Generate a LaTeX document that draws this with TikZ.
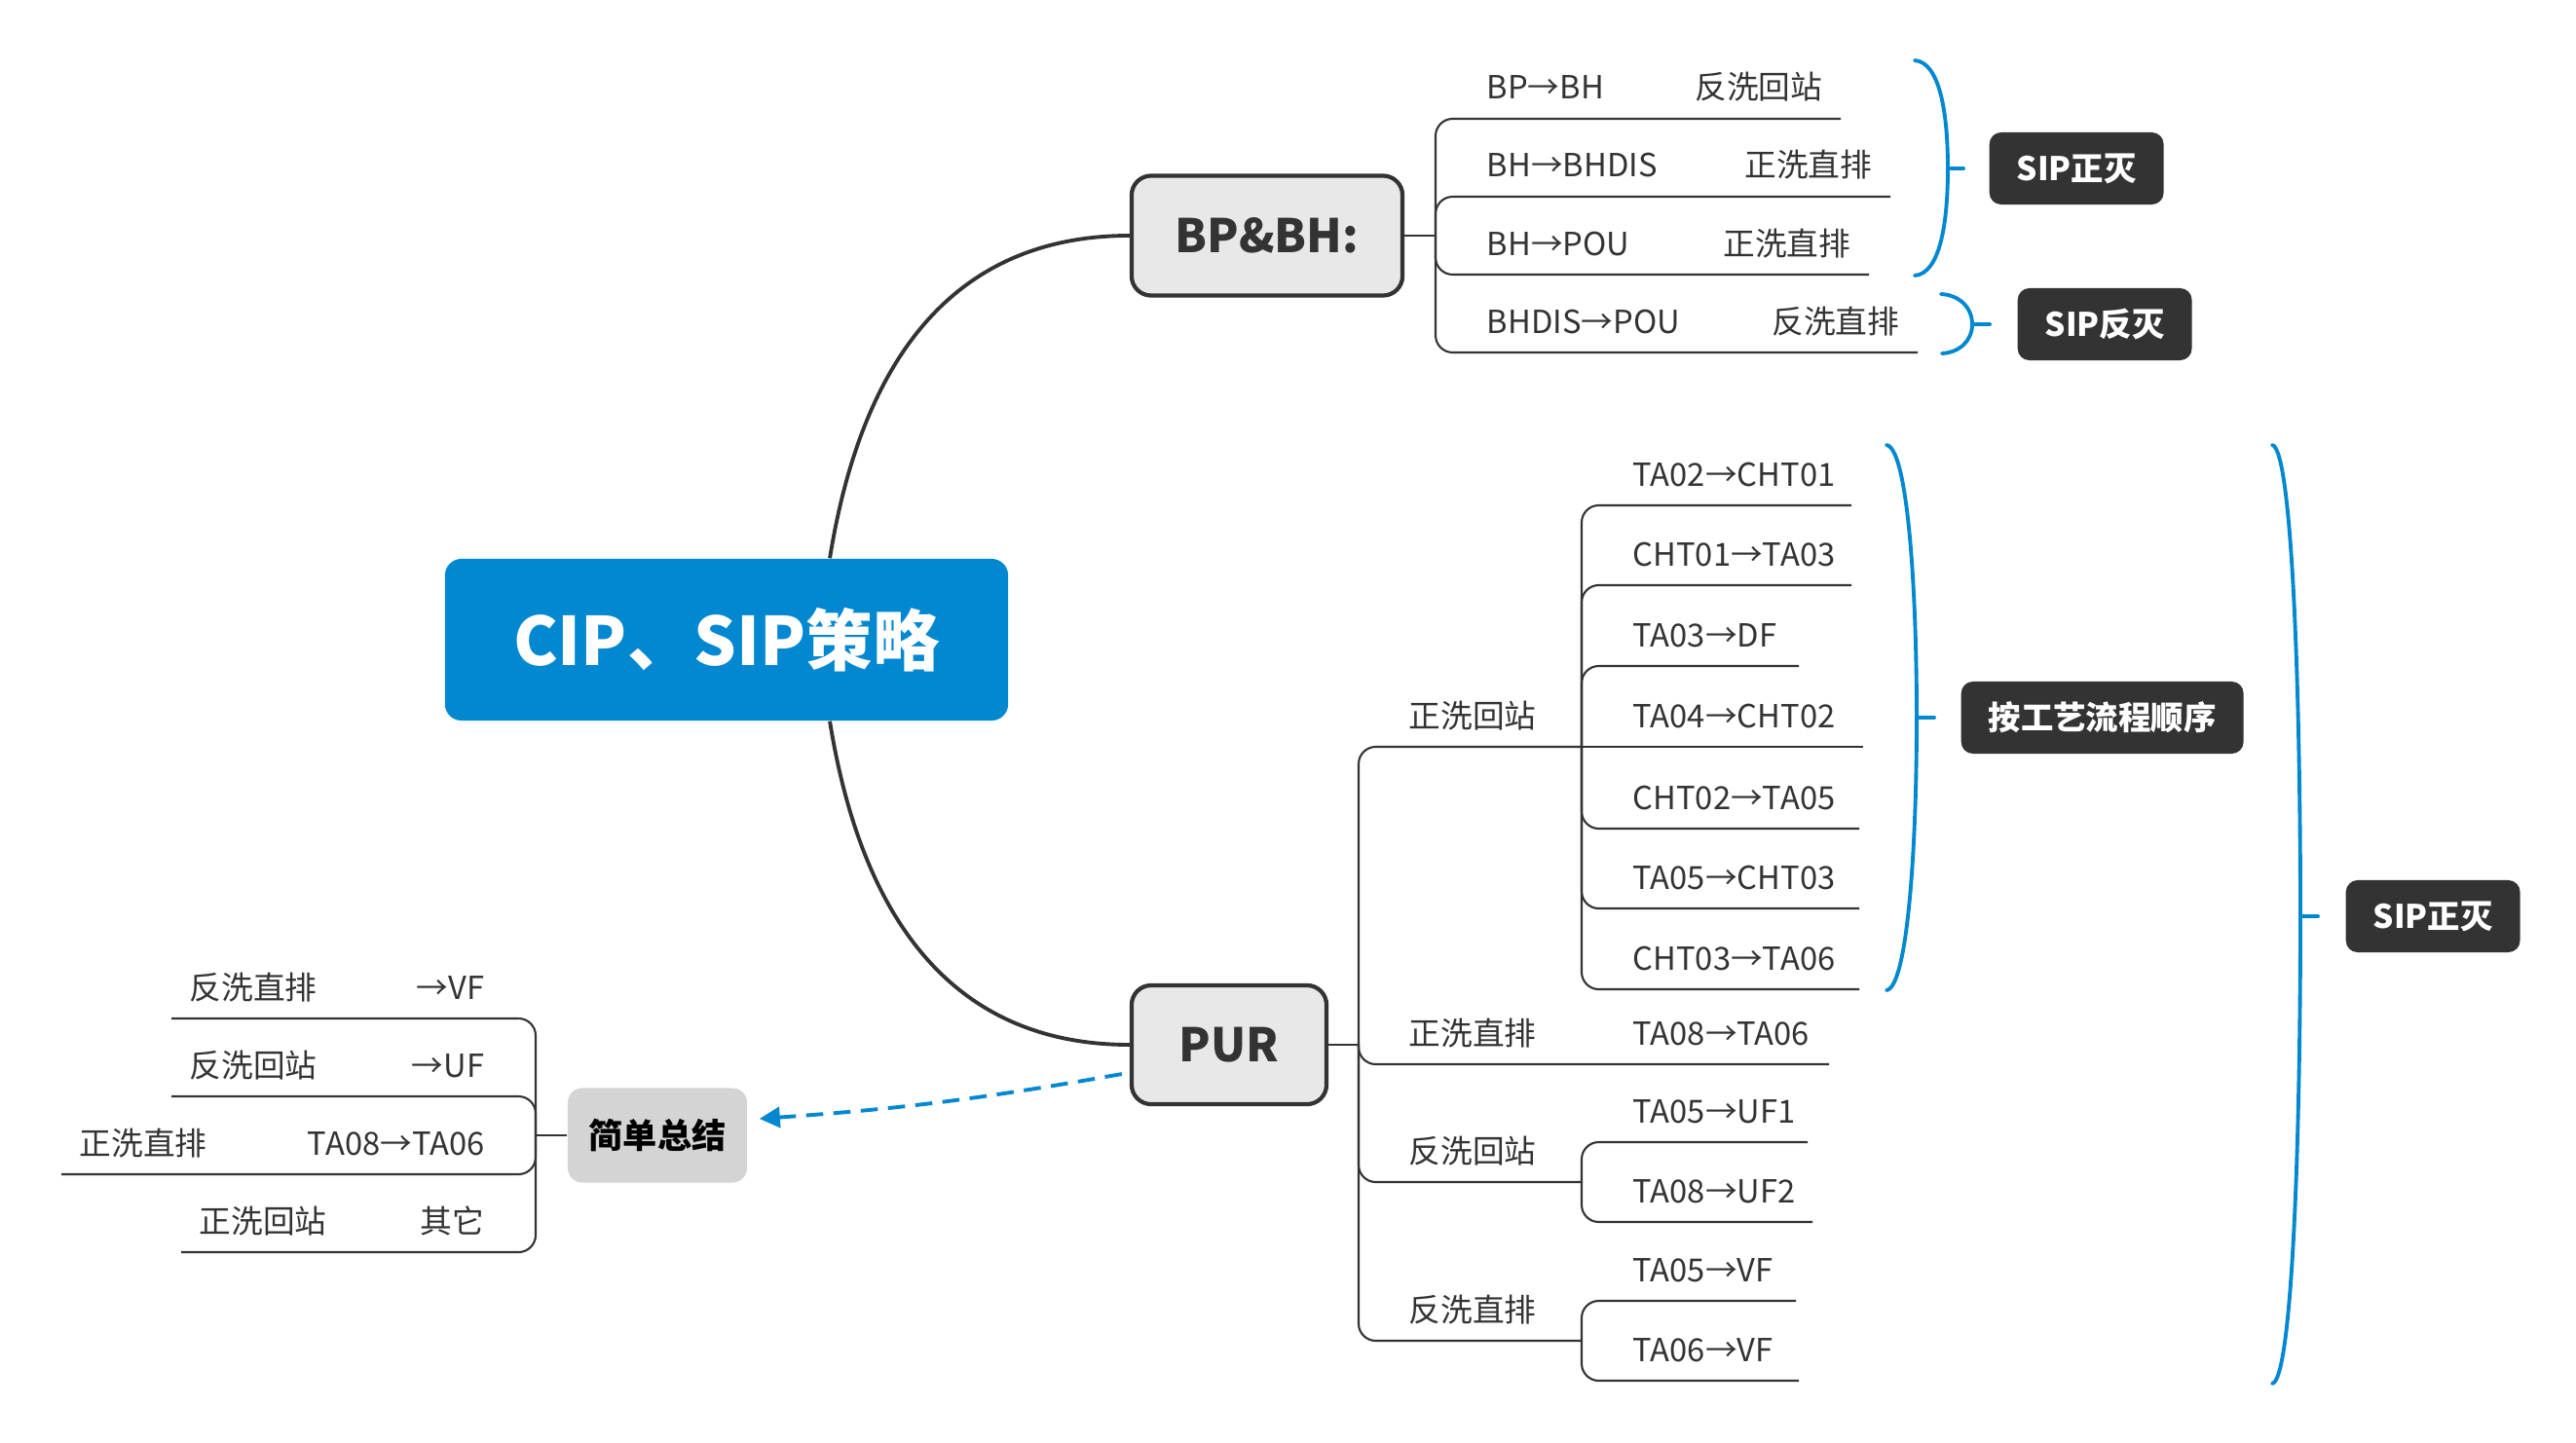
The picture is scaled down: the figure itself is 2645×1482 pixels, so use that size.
\documentclass[tikz,border=0pt]{standalone}
\usepackage{fontspec}
\setmainfont{Noto Sans CJK SC}
\usetikzlibrary{arrows.meta, positioning}

\definecolor{xblue}{HTML}{0288D1}
\definecolor{xdark}{HTML}{333333}
\definecolor{xgray}{HTML}{E8E8E8}
\definecolor{xsum}{HTML}{D4D4D4}

\tikzset{
  root/.style={fill=xblue, text=white, rounded corners=0.17cm, minimum width=5.78cm, minimum height=1.66cm, font=\fontsize{19.5}{23}\selectfont\bfseries},
  topic/.style={draw=xdark, line width=1.2pt, fill=xgray, text=xdark, rounded corners=0.2cm, font=\fontsize{13.5}{16}\selectfont\bfseries},
  sumbox/.style={fill=xsum, text=black, rounded corners=0.15cm, minimum width=1.84cm, minimum height=0.97cm, font=\fontsize{10}{12}\selectfont\bfseries},
  tag/.style={fill=xdark, text=white, rounded corners=0.12cm, minimum height=0.74cm, inner xsep=0.28cm, font=\fontsize{9.5}{12}\selectfont\bfseries},
  lbl/.style={text=xdark, inner sep=0pt, font=\fontsize{9.3}{11}\selectfont},
  curve/.style={xdark, line width=1.1pt},
  branch/.style={xdark, line width=0.6pt, rounded corners=5pt},
  brace/.style={xblue, line width=1.1pt, line cap=round},
}

\begin{document}
\begin{tikzpicture}[x=0.01cm, y=-0.01cm]
\useasboundingbox (0,0) rectangle (2645,1482);

% main topics
\node[root] (cip) at (746,657) {CIP、SIP策略};
\node[topic, minimum width=2.78cm, minimum height=1.23cm] (bpbh) at (1301,242) {BP\&BH:};
\node[topic, minimum width=2.0cm, minimum height=1.22cm] (pur) at (1262,1073) {PUR};
\node[sumbox] (jd) at (675,1166) {简单总结};

\draw[curve] ([xshift=1.06cm]cip.north) .. controls +(28,-174) and +(-201,0) .. (bpbh.west);
\draw[curve] ([xshift=1.06cm]cip.south) .. controls +(28,174) and +(-201,0) .. (pur.west);

% BP&BH
\coordinate (bs) at (1474,242);
\draw[branch] (bpbh.east) -- (bs);
\foreach \y/\e/\a/\b [count=\i] in {122/1890/BP→BH/反洗回站, 202/1941/BH→BHDIS/正洗直排, 282/1919/BH→POU/正洗直排, 362/1969/BHDIS→POU/反洗直排}{
  \coordinate (be\i) at (\e,\y);
  \draw[branch] (bs) |- (be\i);
  \node[lbl, anchor=base west] (ba\i) at (1526,\y-20) {\a};
  \node[lbl, anchor=base east] (bb\i) at (\e-18,\y-20) {\b};
}

\draw[brace] (1966,62) .. controls (1992,64) and (2000,117) .. (2000,173) coordinate (m1)
  .. controls (2000,229) and (1992,281) .. (1966,283);
\draw[brace] (m1) -- ++(16,0) coordinate (k1);
\node[tag, right=0.26cm of k1] (sip1) {SIP正灭};

\draw[brace] (1993,302) .. controls (2012,303) and (2025,316) .. (2025,333) coordinate (m2)
  .. controls (2025,350) and (2012,362) .. (1994,363);
\draw[brace] (m2) -- ++(18,0) coordinate (k2);
\node[tag, right=0.28cm of k2] (sip2) {SIP反灭};

% PUR
\coordinate (ps) at (1395,1073);
\draw[branch] (pur.east) -- (ps);
\coordinate (zs) at (1624,767);
\coordinate (ze) at (1878,1093);
\coordinate (fs) at (1624,1214);
\coordinate (ds) at (1624,1377);
\draw[branch] (ps) |- (zs);
\draw[branch] (ps) |- (ze);
\draw[branch] (ps) |- (fs);
\draw[branch] (ps) |- (ds);
\node[lbl, anchor=base west] (p1) at (1446,747) {正洗回站};
\node[lbl, anchor=base west] (p2) at (1446,1073) {正洗直排};
\node[lbl, anchor=base west] (p2a) at (1676,1073) {TA08→TA06};
\node[lbl, anchor=base west] (p3) at (1446,1194) {反洗回站};
\node[lbl, anchor=base west] (p4) at (1446,1357) {反洗直排};

\foreach \y/\e/\a [count=\i] in {519/1901/TA02→CHT01, 601/1901/CHT01→TA03, 684/1847/TA03→DF, 851/1909/CHT02→TA05, 933/1909/TA05→CHT03, 1016/1909/CHT03→TA06}{
  \coordinate (ze\i) at (\e,\y);
  \draw[branch] (zs) |- (ze\i);
  \node[lbl, anchor=base west] (za\i) at (1676,\y-20) {\a};
}
\coordinate (zm) at (1913,767);
\draw[branch] (zs) -- (zm);
\node[lbl, anchor=base west] (zma) at (1676,747) {TA04→CHT02};

\foreach \y/\e/\a [count=\i] in {1173/1856/TA05→UF1, 1255/1861/TA08→UF2}{
  \coordinate (fe\i) at (\e,\y);
  \draw[branch] (fs) |- (fe\i);
  \node[lbl, anchor=base west] (fa\i) at (1676,\y-20) {\a};
}
\foreach \y/\e/\a [count=\i] in {1336/1844/TA05→VF, 1418/1847/TA06→VF}{
  \coordinate (de\i) at (\e,\y);
  \draw[branch] (ds) |- (de\i);
  \node[lbl, anchor=base west] (da\i) at (1676,\y-20) {\a};
}

\draw[brace] (1937,457) .. controls (1958,460) and (1968,597) .. (1968,737) coordinate (m3)
  .. controls (1968,877) and (1958,1014) .. (1937,1017);
\draw[brace] (m3) -- ++(18,0) coordinate (k3);
\node[tag, right=0.27cm of k3] (gy) {按工艺流程顺序};

\draw[brace] (2333,457) .. controls (2353,460) and (2362,700) .. (2362,941) coordinate (m4)
  .. controls (2362,1182) and (2353,1418) .. (2333,1421);
\draw[brace] (m4) -- ++(18,0) coordinate (k4);
\node[tag, right=0.28cm of k4] (sip3) {SIP正灭};

% summary
\coordinate (js) at (550,1166);
\draw[branch] (jd.west) -- (js);
\foreach \y/\e/\a/\b [count=\i] in {1046/176/反洗直排/→VF, 1126/176/反洗回站/→UF, 1206/63/正洗直排/TA08→TA06, 1286/186/正洗回站/其它}{
  \coordinate (je\i) at (\e,\y);
  \draw[branch] (js) |- (je\i);
  \node[lbl, anchor=base west] (ja\i) at (\e+18,\y-20) {\a};
  \node[lbl, anchor=base east] (jb\i) at (498,\y-20) {\b};
}

\draw[xblue, line width=1.1pt, dash pattern=on 5pt off 3pt, -{Triangle[length=6pt,width=6pt]}]
  ([xshift=-0.08cm,yshift=-0.3cm]pur.west) to[bend left=3] ([xshift=0.12cm,yshift=0.17cm]jd.east);
\end{tikzpicture}
\end{document}
